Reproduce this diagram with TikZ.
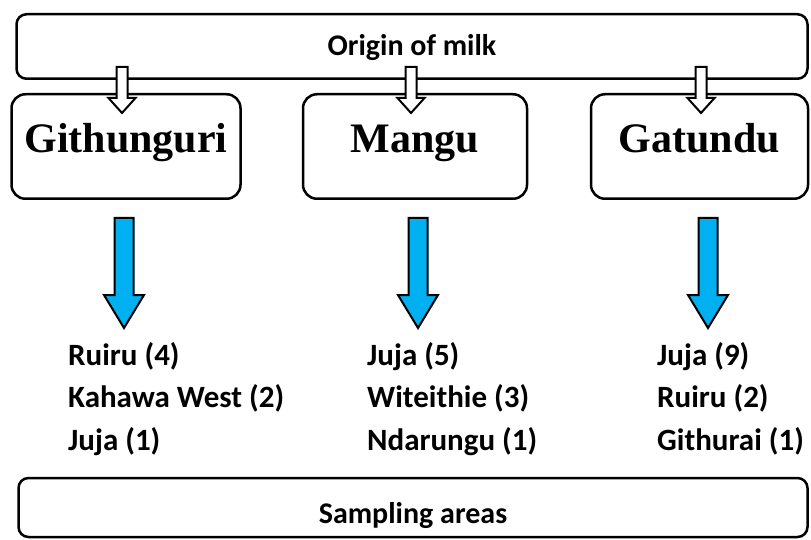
\documentclass[tikz,border=0pt]{standalone}
\usepackage{fontspec}
\setmainfont{Carlito}
\newfontfamily\townfont{Liberation Serif}
\usetikzlibrary{positioning,calc}

\definecolor{arrowblue}{RGB}{0,176,240}

\tikzset{
  bar/.style={draw, line width=2.5pt, rounded corners=10pt, font=\bfseries\fontsize{30}{36}\selectfont},
  town/.style={draw, line width=2.5pt, rounded corners=14pt, minimum height=104.5pt,
    text height=28pt, text depth=15pt, font=\townfont\bfseries\fontsize{42}{48}\selectfont},
  places/.style={anchor=base west, align=left, inner sep=0pt, font=\bfseries\fontsize{31}{42.5}\selectfont}
}

% block arrow: start, tip, half shaft, half head, head length, fill
\newcommand{\blockarrow}[6]{%
  \draw[line width=2pt, fill=#6, line join=miter]
    ($(#1)+(-#3,0)$) -- ($(#2)+(-#3,-#5)$) -- ($(#2)+(-#4,-#5)$) -- (#2)
    -- ($(#2)+(#4,-#5)$) -- ($(#2)+(#3,-#5)$) -- ($(#1)+(#3,0)$) -- cycle;}

\begin{document}
\begin{tikzpicture}[x=1pt,y=-1pt]
\useasboundingbox (0,0) rectangle (811,540);

\node[bar, minimum width=791pt, minimum height=64.5pt, text height=20pt, text depth=1pt] (origin) at (412,46.5) {Origin of milk};

\node[town, minimum width=229pt] (gith) at (126,146.5) {Githunguri};
\node[town, minimum width=224pt] (mangu) at (415,146.5) {Mangu};
\node[town, minimum width=217pt] (gat) at (699.5,146.5) {Gatundu};

\node[bar, minimum width=789pt, minimum height=59pt, text height=31pt, text depth=0pt] (sampling) at (413,507.5) {Sampling areas};

% white arrows from the top bar
\coordinate (w1) at (122,67);  \coordinate (w1tip) at (122,113);
\coordinate (w2) at (411,67);  \coordinate (w2tip) at (411,113);
\coordinate (w3) at (701,67);  \coordinate (w3tip) at (701,113);
\blockarrow{w1}{w1tip}{5.5}{13.5}{15}{white}
\blockarrow{w2}{w2tip}{5.5}{13.5}{15}{white}
\blockarrow{w3}{w3tip}{5.5}{13.5}{15}{white}

% blue arrows below the towns
\coordinate (b1) at (124,218); \coordinate (b1tip) at (124,328);
\coordinate (b2) at (418,218); \coordinate (b2tip) at (418,328);
\coordinate (b3) at (708,218); \coordinate (b3tip) at (708,328);
\blockarrow{b1}{b1tip}{9.5}{20}{33}{arrowblue}
\blockarrow{b2}{b2tip}{9.5}{20}{33}{arrowblue}
\blockarrow{b3}{b3tip}{9.5}{20}{33}{arrowblue}

% base anchor sits on the last line
\node[places] (githlist) at (68,450) {Ruiru (4)\\Kahawa West (2)\\Juja (1)};
\node[places] (mangulist) at (367,450) {Juja (5)\\Witeithie (3)\\Ndarungu (1)};
\node[places] (gatlist) at (657,450) {Juja (9)\\Ruiru (2)\\Githurai (1)};
\end{tikzpicture}
\end{document}
